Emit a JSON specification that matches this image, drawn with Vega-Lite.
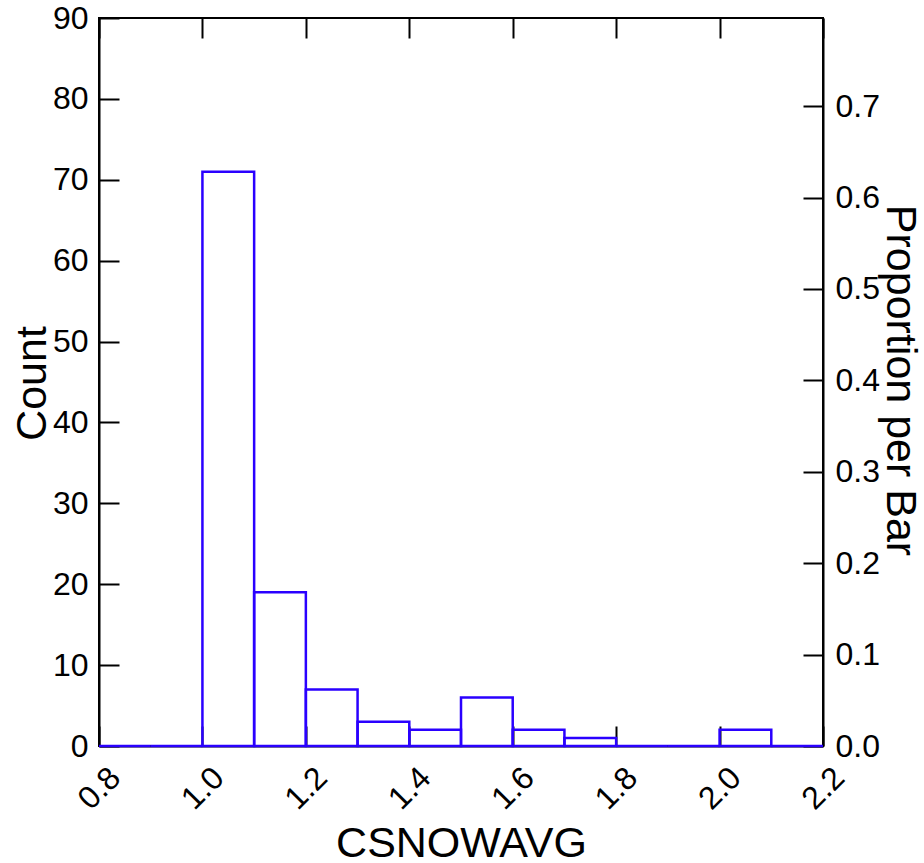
{
  "$schema": "https://vega.github.io/schema/vega-lite/v6.json",
  "width": 724,
  "height": 728,
  "autosize": {"type": "none"},
  "padding": {"left": 99, "top": 18, "right": 101, "bottom": 117},
  "background": "white",
  "config": {
    "font": "Liberation Sans",
    "view": {"stroke": "black", "strokeWidth": 2},
    "axis": {
      "grid": false,
      "domainColor": "black",
      "domainWidth": 2,
      "tickColor": "black",
      "tickWidth": 2,
      "tickSize": -20,
      "labelFont": "Liberation Sans",
      "labelFontSize": 32,
      "labelColor": "black",
      "titleFont": "Liberation Sans",
      "titleFontSize": 43,
      "titleFontWeight": "normal",
      "titleColor": "black"
    }
  },
  "data": {
    "values": [
      {"lo": 0.8, "hi": 0.9, "count": 0, "prop": 0},
      {"lo": 0.9, "hi": 1.0, "count": 0, "prop": 0},
      {"lo": 1.0, "hi": 1.1, "count": 71, "prop": 0.6283},
      {"lo": 1.1, "hi": 1.2, "count": 19, "prop": 0.1681},
      {"lo": 1.2, "hi": 1.3, "count": 7, "prop": 0.0619},
      {"lo": 1.3, "hi": 1.4, "count": 3, "prop": 0.0265},
      {"lo": 1.4, "hi": 1.5, "count": 2, "prop": 0.0177},
      {"lo": 1.5, "hi": 1.6, "count": 6, "prop": 0.0531},
      {"lo": 1.6, "hi": 1.7, "count": 2, "prop": 0.0177},
      {"lo": 1.7, "hi": 1.8, "count": 1, "prop": 0.0088},
      {"lo": 1.8, "hi": 1.9, "count": 0, "prop": 0},
      {"lo": 1.9, "hi": 2.0, "count": 0, "prop": 0},
      {"lo": 2.0, "hi": 2.1, "count": 2, "prop": 0.0177},
      {"lo": 2.1, "hi": 2.2, "count": 0, "prop": 0}
    ]
  },
  "layer": [
    {
      "mark": {"type": "bar", "fill": "white", "fillOpacity": 0, "stroke": "#2a00ff", "strokeWidth": 2.5, "orient": "vertical"},
      "encoding": {
        "x": {
          "field": "lo", "type": "quantitative",
          "scale": {"domain": [0.8, 2.2], "nice": false, "zero": false, "padding": 0},
          "axis": {
            "orient": "bottom",
            "title": "CSNOWAVG",
            "values": [0.8, 1.0, 1.2, 1.4, 1.6, 1.8, 2.0, 2.2],
            "format": ".1f",
            "labelAngle": -45,
            "labelAlign": "center",
            "labelBaseline": "middle",
            "labelPadding": 62,
            "labelFlush": false,
            "labelOverlap": false,
            "titleX": 362,
            "titleY": 110,
            "titleAlign": "center",
            "titleBaseline": "alphabetic",
            "titleAngle": 0
          }
        },
        "x2": {"field": "hi"},
        "y": {
          "field": "count", "type": "quantitative",
          "scale": {"domain": [0, 90], "nice": false, "padding": 0},
          "axis": {
            "orient": "left",
            "title": "Count",
            "values": [0, 10, 20, 30, 40, 50, 60, 70, 80, 90],
            "labelPadding": 31,
            "labelFlush": false,
            "labelOverlap": false,
            "titleX": -54,
            "titleY": 365,
            "titleAngle": -90,
            "titleAlign": "center",
            "titleBaseline": "alphabetic"
          }
        },
        "y2": {"datum": 0}
      }
    },
    {
      "mark": {"type": "point", "opacity": 0},
      "encoding": {
        "x": {
          "field": "lo", "type": "quantitative",
          "scale": {"domain": [0.8, 2.2], "nice": false, "zero": false, "padding": 0},
          "axis": {
            "orient": "top",
            "title": null,
            "labels": false,
            "domain": false,
            "values": [0.8, 1.0, 1.2, 1.4, 1.6, 1.8, 2.0, 2.2]
          }
        },
        "y": {
          "field": "prop", "type": "quantitative",
          "scale": {"domain": [0, 0.79646], "nice": false, "padding": 0},
          "axis": {
            "orient": "right",
            "title": "Proportion per Bar",
            "values": [0, 0.1, 0.2, 0.3, 0.4, 0.5, 0.6, 0.7],
            "format": ".1f",
            "labelPadding": 32,
            "labelFlush": false,
            "labelOverlap": false,
            "titleX": 63,
            "titleY": 362,
            "titleAngle": 90,
            "titleAlign": "center",
            "titleBaseline": "alphabetic"
          }
        }
      }
    }
  ],
  "resolve": {"scale": {"y": "independent"}, "axis": {"x": "independent"}}
}
